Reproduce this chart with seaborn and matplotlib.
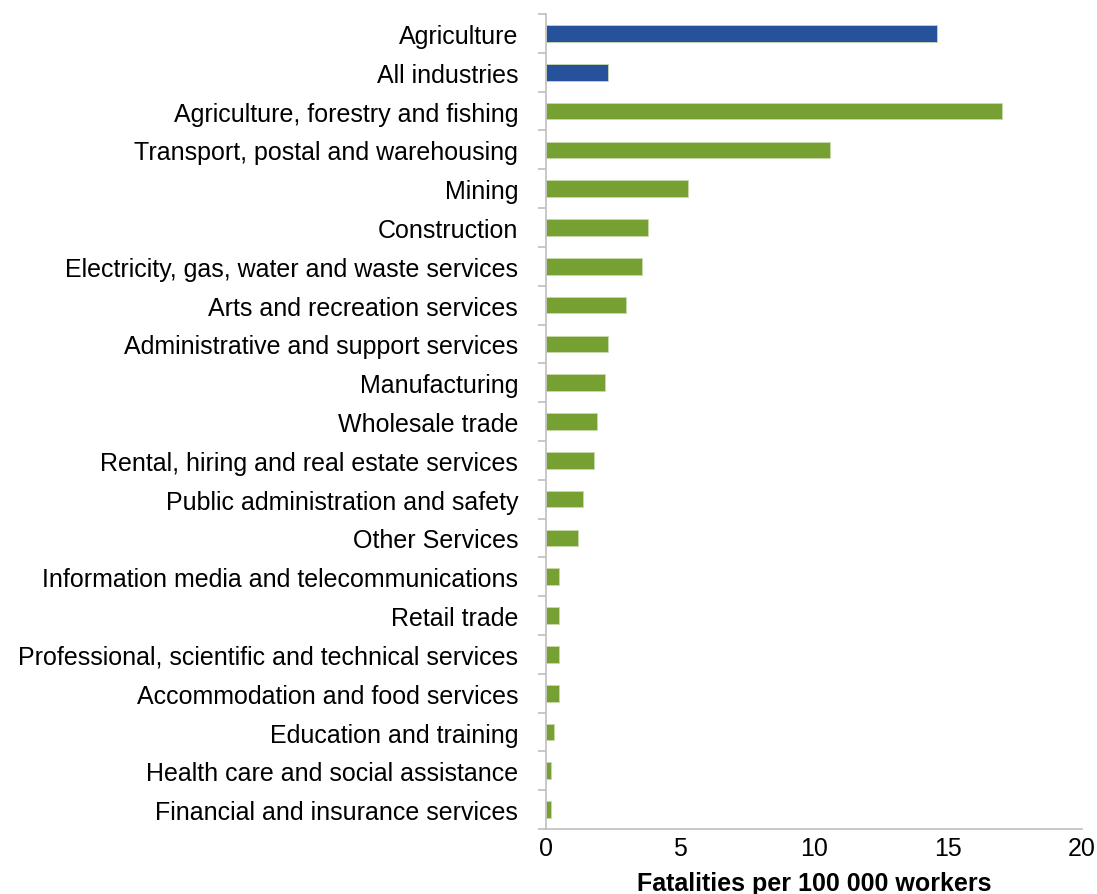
import matplotlib
matplotlib.use('Agg')
import matplotlib.pyplot as plt
import seaborn as sns
import pandas as pd

### DATA ###
industries = [
    'Agriculture',
    'All industries',
    'Agriculture, forestry and fishing',
    'Transport, postal and warehousing',
    'Mining',
    'Construction',
    'Electricity, gas, water and waste services',
    'Arts and recreation services',
    'Administrative and support services',
    'Manufacturing',
    'Wholesale trade',
    'Rental, hiring and real estate services',
    'Public administration and safety',
    'Other Services',
    'Information media and telecommunications',
    'Retail trade',
    'Professional, scientific and technical services',
    'Accommodation and food services',
    'Education and training',
    'Health care and social assistance',
    'Financial and insurance services',
]
rates = [14.6, 2.3, 17.0, 10.6, 5.3, 3.8, 3.6, 3.0, 2.3, 2.2, 1.9,
         1.8, 1.4, 1.2, 0.5, 0.5, 0.5, 0.5, 0.3, 0.2, 0.2]
group = ['highlight', 'highlight'] + ['industry'] * 19

df = pd.DataFrame({'industry': industries, 'rate': rates, 'group': group})

### PLOT ###
sns.set_style('white')
plt.rcParams['font.family'] = ['Liberation Sans', 'DejaVu Sans']
plt.rcParams['text.color'] = 'black'
plt.rcParams['axes.labelcolor'] = 'black'
plt.rcParams['xtick.color'] = 'black'
plt.rcParams['ytick.color'] = 'black'

fig = plt.figure(figsize=(10.97, 8.95), dpi=100)
ax = fig.add_axes([0.4977, 0.0726, 0.4886, 0.9106])

palette = {'highlight': '#25529A', 'industry': '#77A032'}
sns.barplot(data=df, x='rate', y='industry', hue='group', palette=palette,
            dodge=False, width=0.43, legend=False, ax=ax, saturation=1,
            edgecolor='#C9D9AE', linewidth=0.6)

ax.set_xlim(0, 20)
ax.set_ylim(len(industries) - 0.5, -0.5)
ax.set_xticks([0, 5, 10, 15, 20])
ax.set_xlabel('Fatalities per 100 000 workers', fontsize=18, fontweight='bold',
              labelpad=8)
ax.set_ylabel('')

# y ticks between categories, labels centred on the bars
ax.set_yticks([i + 0.5 for i in range(-1, len(industries))], minor=False)
ax.set_yticklabels([])
ax.set_yticks(range(len(industries)), minor=True)
ax.set_yticklabels(industries, minor=True)
ax.tick_params(axis='y', which='major', length=6, width=1.2, color='#BFBFBF',
               direction='out', left=True)
ax.tick_params(axis='y', which='minor', length=0, labelsize=18, pad=20)
ax.tick_params(axis='x', length=0, labelsize=18, pad=5)

for side in ['top', 'right']:
    ax.spines[side].set_visible(False)
for side in ['left', 'bottom']:
    ax.spines[side].set_color('#BFBFBF')
    ax.spines[side].set_linewidth(1.2)

plt.savefig('out.png', dpi=100)
